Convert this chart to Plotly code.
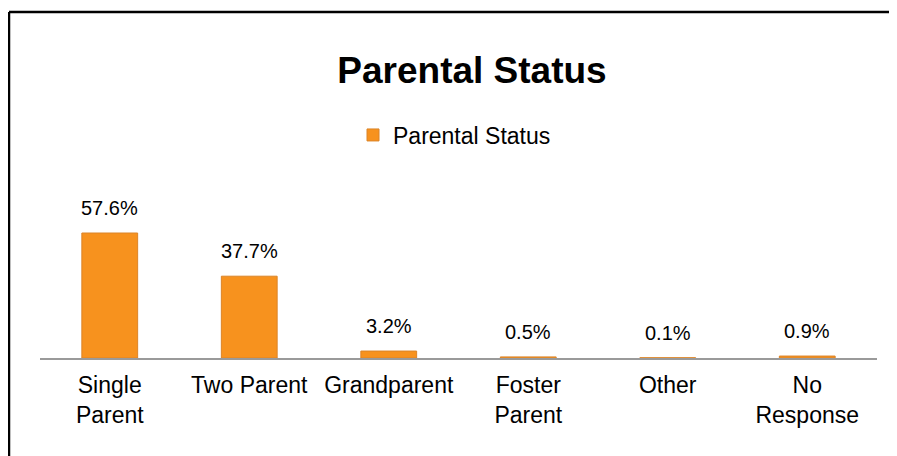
import plotly.graph_objects as go

categories = ["Single<br>Parent", "Two Parent", "Grandparent", "Foster<br>Parent", "Other", "No<br>Response"]
values = [57.6, 37.7, 3.2, 0.5, 0.1, 0.9]
labels = ["57.6%", "37.7%", "3.2%", "0.5%", "0.1%", "0.9%"]
series_name = "Parental Status"
title_text = "Parental Status"

FONT = "Liberation Sans"
OFF = 8  # page body margin
W, H = 897 - OFF, 456 - OFF
ml, mr, mt = 40 - OFF, 20, 190 - OFF
mb = H - (358 - OFF)
pw, ph = W - ml - mr, H - mt - mb

def px_x(x):  # page x -> paper
    return (x - OFF - ml) / pw

def px_y(y):  # page y -> paper
    return 1 - (y - OFF - mt) / ph

fig = go.Figure()
fig.add_trace(go.Bar(
    x=categories, y=values, name=series_name,
    marker=dict(color="#F7921E", line=dict(color="#DB8428", width=1)),
    showlegend=True,
))

annotations = [
    dict(x=c, y=v, xref="x", yref="y", text=t, showarrow=False,
         yanchor="bottom", yshift=12,
         font=dict(family=FONT, size=20, color="#000000"))
    for c, v, t in zip(categories, values, labels)
]

fig.update_layout(
    width=W, height=H,
    margin=dict(l=ml, r=mr, t=mt, b=mb),
    paper_bgcolor="white", plot_bgcolor="white",
    bargap=0.6,
    annotations=annotations,
    title=dict(text="<b>" + title_text + "</b>", x=px_x(472), xref="paper",
               xanchor="center", y=1 - (70 - OFF) / H, yanchor="middle",
               font=dict(family=FONT, size=37, color="#000000")),
    legend=dict(orientation="h", x=px_x(393 - 40), xanchor="left",
                y=px_y(135), yanchor="middle",
                font=dict(family=FONT, size=23, color="#000000")),
    xaxis=dict(showline=True, linecolor="#9a9a9a", linewidth=1.5, ticks="",
               tickfont=dict(family=FONT, size=23, color="#000000"), ticklabelstandoff=6),
    yaxis=dict(visible=False, range=[0, 57.6 * (358 - 190) / 125]),
    shapes=[
        dict(type="line", xref="paper", yref="paper", x0=px_x(9), x1=px_x(905),
             y0=px_y(12), y1=px_y(12), line=dict(color="#000000", width=2.5)),
        dict(type="line", xref="paper", yref="paper", x0=px_x(9), x1=px_x(9),
             y0=px_y(12), y1=px_y(470), line=dict(color="#000000", width=2.5)),
    ],
)

fig.write_html("out.html")
